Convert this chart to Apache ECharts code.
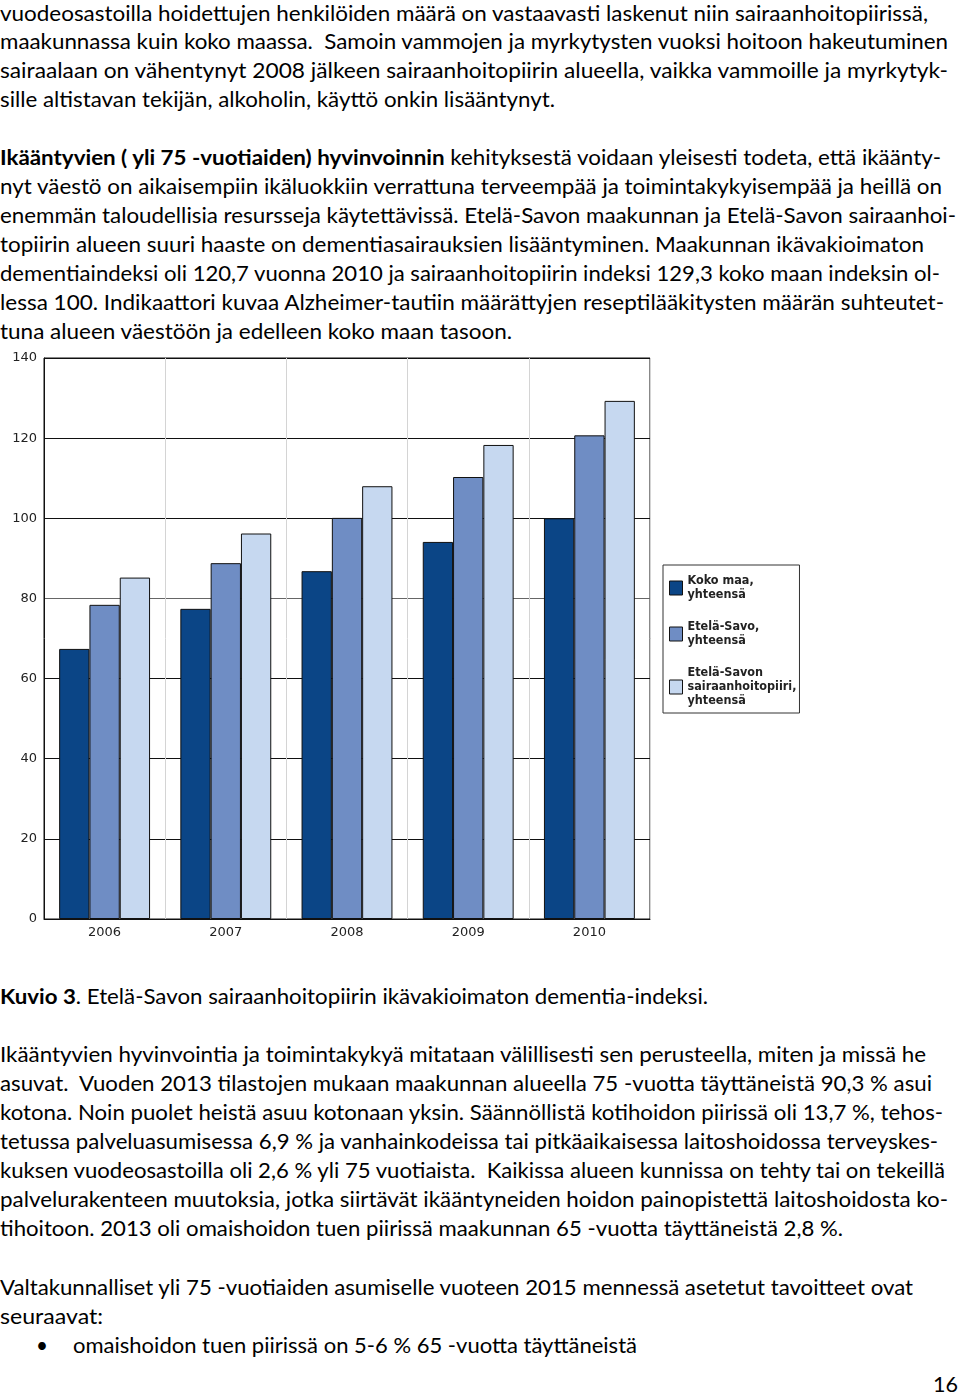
<!DOCTYPE html>
<html><head><meta charset="utf-8">
<script src="https://cdn.jsdelivr.net/npm/echarts@6/dist/echarts.min.js"></script>
<style>
html,body{margin:0;padding:0;background:#fff;}
body{width:960px;height:1394px;position:relative;overflow:hidden;font-family:Lato,'Open Sans',sans-serif;color:#000;}
.ln{position:absolute;left:0;height:29px;line-height:29px;font-size:21px;white-space:pre;transform-origin:0 50%;}
#chart{position:absolute;left:0;top:340px;width:960px;height:610px;}
</style></head>
<body>
<div class="ln" data-y="12" data-r="928">vuodeosastoilla hoidettujen henkilöiden määrä on vastaavasti laskenut niin sairaanhoitopiirissä,</div>
<div class="ln" data-y="40" data-r="948">maakunnassa kuin koko maassa.  Samoin vammojen ja myrkytysten vuoksi hoitoon hakeutuminen</div>
<div class="ln" data-y="69" data-r="948">sairaalaan on vähentynyt 2008 jälkeen sairaanhoitopiirin alueella, vaikka vammoille ja myrkytyk-</div>
<div class="ln" data-y="98" data-r="555">sille altistavan tekijän, alkoholin, käyttö onkin lisääntynyt.</div>

<div class="ln" data-y="156" data-r="941"><b>Ikääntyvien ( yli 75 -vuotiaiden) hyvinvoinnin</b> kehityksestä voidaan yleisesti todeta, että ikäänty-</div>
<div class="ln" data-y="185" data-r="942">nyt väestö on aikaisempiin ikäluokkiin verrattuna terveempää ja toimintakykyisempää ja heillä on</div>
<div class="ln" data-y="214" data-r="956">enemmän taloudellisia resursseja käytettävissä. Etelä-Savon maakunnan ja Etelä-Savon sairaanhoi-</div>
<div class="ln" data-y="243" data-r="924">topiirin alueen suuri haaste on dementiasairauksien lisääntyminen. Maakunnan ikävakioimaton</div>
<div class="ln" data-y="272" data-r="940">dementiaindeksi oli 120,7 vuonna 2010 ja sairaanhoitopiirin indeksi 129,3 koko maan indeksin ol-</div>
<div class="ln" data-y="301" data-r="944">lessa 100. Indikaattori kuvaa Alzheimer-tautiin määrättyjen reseptilääkitysten määrän suhteutet-</div>
<div class="ln" data-y="330" data-r="512">tuna alueen väestöön ja edelleen koko maan tasoon.</div>

<div id="chart"></div>

<div class="ln" data-y="995" data-r="708"><b>Kuvio 3</b>. Etelä-Savon sairaanhoitopiirin ikävakioimaton dementia-indeksi.</div>

<div class="ln" data-y="1053" data-r="926">Ikääntyvien hyvinvointia ja toimintakykyä mitataan välillisesti sen perusteella, miten ja missä he</div>
<div class="ln" data-y="1082" data-r="932">asuvat.  Vuoden 2013 tilastojen mukaan maakunnan alueella 75 -vuotta täyttäneistä 90,3 % asui</div>
<div class="ln" data-y="1111" data-r="943">kotona. Noin puolet heistä asuu kotonaan yksin. Säännöllistä kotihoidon piirissä oli 13,7 %, tehos-</div>
<div class="ln" data-y="1140" data-r="938">tetussa palveluasumisessa 6,9 % ja vanhainkodeissa tai pitkäaikaisessa laitoshoidossa terveyskes-</div>
<div class="ln" data-y="1169" data-r="945">kuksen vuodeosastoilla oli 2,6 % yli 75 vuotiaista.  Kaikissa alueen kunnissa on tehty tai on tekeillä</div>
<div class="ln" data-y="1198" data-r="948">palvelurakenteen muutoksia, jotka siirtävät ikääntyneiden hoidon painopistettä laitoshoidosta ko-</div>
<div class="ln" data-y="1227" data-r="843">tihoitoon. 2013 oli omaishoidon tuen piirissä maakunnan 65 -vuotta täyttäneistä 2,8 %.</div>

<div class="ln" data-y="1286" data-r="913">Valtakunnalliset yli 75 -vuotiaiden asumiselle vuoteen 2015 mennessä asetetut tavoitteet ovat</div>
<div class="ln" data-y="1315" data-r="103">seuraavat:</div>
<div class="ln" data-y="1344" data-x="36" data-r="48">•</div>
<div class="ln" data-y="1344" data-x="73" data-r="637">omaishoidon tuen piirissä on 5-6 % 65 -vuotta täyttäneistä</div>
<div class="ln" data-y="1383" data-x="933" data-r="958">16</div>

<script>
// ---- chart data ----
const years = ['2006', '2007', '2008', '2009', '2010'];
const seriesNames = ['Koko maa,\nyhteensä', 'Etelä-Savo,\nyhteensä', 'Etelä-Savon\nsairaanhoitopiiri,\nyhteensä'];
const kokoMaa = [67.4, 77.4, 86.8, 94.1, 100.0];
const etelaSavo = [78.4, 88.8, 100.1, 110.3, 120.7];
const sairaanhoitopiiri = [85.2, 96.2, 108.0, 118.3, 129.3];
const yMin = 0, yMax = 140, yStep = 20;
const colors = ['#0b4586', '#6f8dc4', '#c6d8f0'];

function layoutLines() {
  document.querySelectorAll('.ln').forEach(el => {
    const y = +el.dataset.y, x = +(el.dataset.x || 0), r = +el.dataset.r;
    el.style.top = (y - 14.5) + 'px';
    el.style.left = x + 'px';
    el.style.transform = 'none';
    const w = el.getBoundingClientRect().width;
    if (w > 0) el.style.transform = 'scaleX(' + ((r - x) / w) + ')';
  });
}
layoutLines();
if (document.fonts && document.fonts.ready) document.fonts.ready.then(layoutLines);

const axisFont = {fontFamily: '"DejaVu Sans", sans-serif', fontSize: 13, color: '#222'};
const chart = echarts.init(document.getElementById('chart'), null, {renderer: 'canvas'});
const data = [kokoMaa, etelaSavo, sairaanhoitopiiri];
chart.setOption({
  animation: false,
  grid: {left: 44, top: 18, width: 606, height: 561, show: true, borderColor: '#111', borderWidth: 1, backgroundColor: 'transparent'},
  legend: {
    orient: 'vertical', left: 663, top: 225,
    padding: [9, 3, 5, 6], itemGap: 18,
    itemWidth: 13, itemHeight: 14, icon: 'rect',
    borderColor: '#333', borderWidth: 1,
    textStyle: {fontFamily: '"DejaVu Sans Condensed", "DejaVu Sans", sans-serif', fontSize: 12.5, fontWeight: 'bold', color: '#222', lineHeight: 14},
    itemStyle: {borderColor: '#111', borderWidth: 1},
    data: seriesNames
  },
  xAxis: {
    type: 'category', data: years,
    axisLine: {show: true, lineStyle: {color: '#111', width: 1}},
    axisTick: {show: false},
    axisLabel: Object.assign({margin: 7}, axisFont),
    splitLine: {show: true, interval: 0, lineStyle: {color: '#d4d4d4', width: 1}}
  },
  yAxis: {
    type: 'value', min: yMin, max: yMax, interval: yStep,
    axisLine: {show: true, lineStyle: {color: '#111', width: 1}},
    axisTick: {show: false},
    axisLabel: Object.assign({margin: 7}, axisFont),
    splitLine: {show: true, lineStyle: {color: ['#111', '#111', '#111', '#111', '#666', '#111', '#111', '#111'], width: 1}}
  },
  series: data.map((d, i) => ({
    type: 'bar', name: seriesNames[i], data: d,
    barWidth: '25%', barGap: '0%',
    itemStyle: {color: colors[i], borderColor: '#111', borderWidth: 1}
  }))
});
</script>
</body></html>
